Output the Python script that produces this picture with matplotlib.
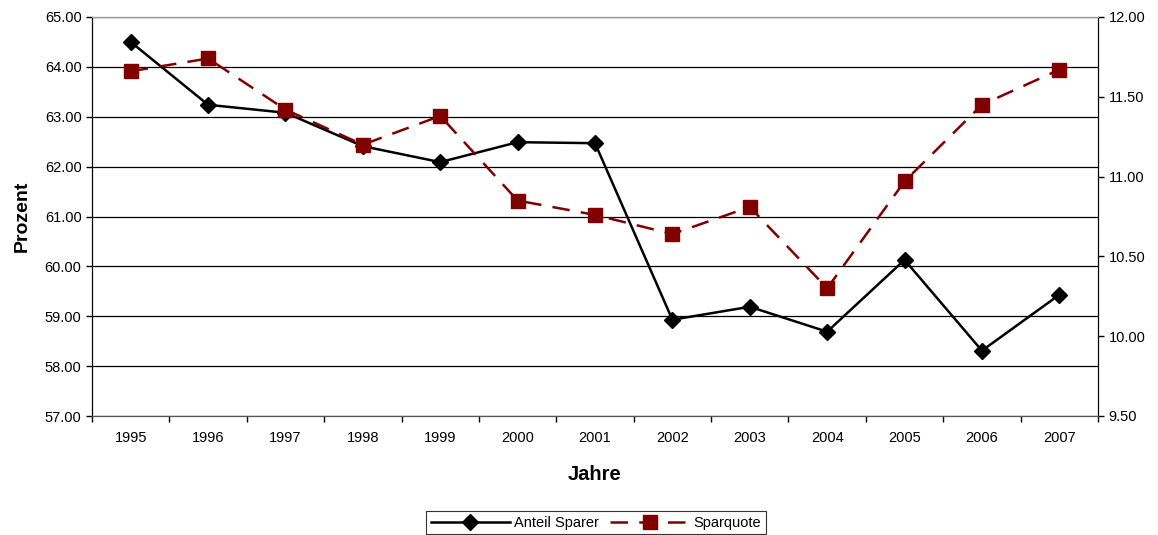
import matplotlib
matplotlib.use("Agg")
import matplotlib.pyplot as plt
from matplotlib.ticker import FixedLocator

plt.rcParams['font.family'] = ['Liberation Sans', 'DejaVu Sans']

years = ['1995', '1996', '1997', '1998', '1999', '2000', '2001',
         '2002', '2003', '2004', '2005', '2006', '2007']
anteil_sparer = [64.50, 63.24, 63.08, 62.41, 62.09, 62.49, 62.47,
                 58.93, 59.19, 58.69, 60.13, 58.31, 59.43]
sparquote = [11.66, 11.74, 11.42, 11.20, 11.38, 10.85, 10.76,
             10.64, 10.81, 10.30, 10.97, 11.45, 11.67]

fig = plt.figure(figsize=(11.58, 5.35), dpi=100)
ax = fig.add_axes([92/1158, 1-416/535, (1098-92)/1158, (416-17)/535])
ax2 = ax.twinx()

x = list(range(len(years)))
l1, = ax.plot(x, anteil_sparer, color='black', lw=1.8, marker='D', ms=8,
              markerfacecolor='black', markeredgecolor='black', zorder=3)
l2, = ax2.plot(x, sparquote, color='#800000', lw=1.8, dashes=(7, 4.5), marker='s', ms=10,
               markerfacecolor='#800000', markeredgecolor='#800000', zorder=3)

ax.set_xlim(-0.5, len(years)-0.5)
ax.set_ylim(57, 65)
ax2.set_ylim(9.5, 12)

ax.set_yticks([57 + i for i in range(9)])
ax.set_yticklabels([f"{57+i:.2f}" for i in range(9)])
ax2.set_yticks([9.5 + 0.5*i for i in range(6)])
ax2.set_yticklabels([f"{9.5+0.5*i:.2f}" for i in range(6)])

ax.set_xticks(x)
ax.set_xticklabels(years)
ax.xaxis.set_minor_locator(FixedLocator([i - 0.5 for i in range(len(years)+1)]))
ax.tick_params(axis='x', which='major', length=0, labelsize=10.5, pad=11)
ax.tick_params(axis='x', which='minor', length=4.5, direction='out', width=1)
ax.tick_params(axis='y', length=4.5, direction='out', labelsize=10.5, width=1, pad=3)
ax2.tick_params(axis='y', length=4.5, direction='out', labelsize=10.5, width=1, pad=3)

ax.grid(axis='y', color='black', lw=0.9)
ax.set_axisbelow(True)
ax.spines['top'].set_color('#999999')
ax2.spines['top'].set_color('#999999')
ax.spines['bottom'].set_color('#555555')
ax2.spines['bottom'].set_color('#555555')
ax2.spines['right'].set_color('black')

ax.set_ylabel('Prozent', fontsize=14, fontweight='bold', labelpad=10)
ax.set_xlabel('Jahre', fontsize=14.5, fontweight='bold', labelpad=14)

leg = fig.legend([l1, l2], ['Anteil Sparer', 'Sparquote'], loc='upper center',
                 bbox_to_anchor=(596/1158, 1-504/535), ncol=2, frameon=True,
                 fancybox=False, edgecolor='black', fontsize=10.5, handlelength=5.4,
                 borderpad=0.3, columnspacing=0.8, handletextpad=0.3)
leg.get_frame().set_linewidth(0.8)

fig.savefig('out.png', dpi=100)
